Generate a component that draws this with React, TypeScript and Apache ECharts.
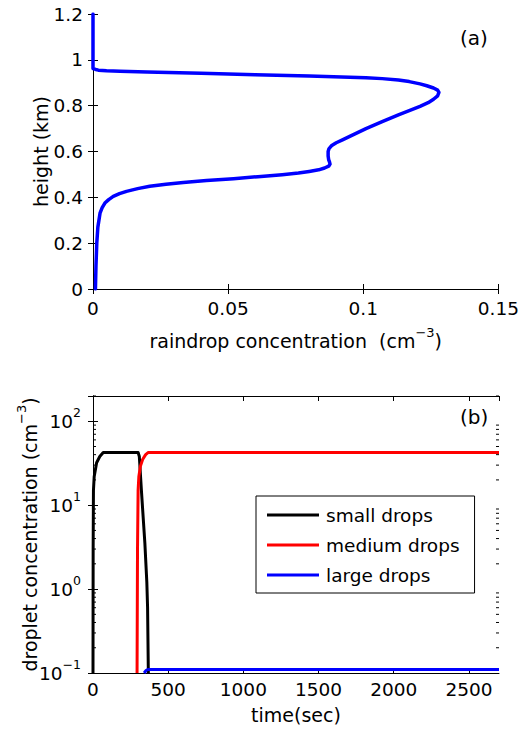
import React, { useEffect, useRef } from "react";
import * as echarts from "echarts";

// ---- Panel (a): raindrop concentration profile ----
const profileHeight = [0, 0.1, 0.2, 0.27, 0.331, 0.355, 0.375, 0.39, 0.404, 0.416, 0.426, 0.438, 0.448, 0.457, 0.465, 0.473, 0.481, 0.49, 0.499, 0.506, 0.513, 0.52, 0.528, 0.536, 0.545, 0.555, 0.564, 0.58, 0.6, 0.612, 0.625, 0.638, 0.652, 0.666, 0.7, 0.73, 0.76, 0.778, 0.797, 0.813, 0.828, 0.843, 0.858, 0.868, 0.877, 0.887, 0.895, 0.905, 0.912, 0.918, 0.922, 0.929, 0.935, 0.941, 0.947, 0.95, 0.952, 0.955, 0.958, 0.962, 1.2];
const profileConc = [0.0009, 0.0011, 0.0014, 0.0018, 0.0026, 0.0034, 0.0044, 0.0058, 0.0075, 0.0098, 0.0124, 0.0165, 0.021, 0.027, 0.0334, 0.042, 0.052, 0.061, 0.07, 0.076, 0.08, 0.0835, 0.0857, 0.0872, 0.0877, 0.0875, 0.0872, 0.087, 0.087, 0.0873, 0.0882, 0.09, 0.0925, 0.095, 0.101, 0.107, 0.113, 0.117, 0.121, 0.124, 0.126, 0.1275, 0.128, 0.1275, 0.126, 0.1235, 0.121, 0.117, 0.113, 0.107, 0.101, 0.08, 0.06, 0.04, 0.02, 0.01, 0.005, 0.002, 0.001, 0, 0];

// ---- Panel (b): droplet concentration time series ----
const smallTime = [0, 1, 3, 8, 24, 45, 68, 300, 308, 323, 345, 358, 363, 368];
const smallConc = [0.1, 3, 15, 22, 32, 38, 42.5, 42.5, 38, 14, 3.5, 1.2, 0.6, 0.1];
const mediumTime = [293, 296, 300, 305, 315, 330, 350, 368, 2700];
const mediumConc = [0.1, 3, 15, 22, 29, 35, 40, 42.5, 42.5];
const largeTime = [340, 352, 365, 2700];
const largeConc = [0.1, 0.107, 0.11, 0.11];

const seriesNames = ["small drops", "medium drops", "large drops"];
const seriesColors = ["#000000", "#ff0000", "#0000ff"];

const minorTickValues = [0.2, 0.3, 0.4, 0.5, 0.6, 0.7, 0.8, 0.9, 2, 3, 4, 5, 6, 7, 8, 9, 20, 30, 40, 50, 60, 70, 80, 90, 200];

const FONT = "DejaVu Sans";
const TICK = 18.5;
const NAME = 19;

const zip = (xs: number[], ys: number[]) => xs.map((x, i) => [x, ys[i]]);

const supRich = (base: number, sup: number, lift: number) => ({
  n: { fontSize: base, fontFamily: FONT, color: "#000", verticalAlign: "middle" },
  b: { fontSize: base, fontFamily: FONT, color: "#000", verticalAlign: "middle" },
  s: { fontSize: sup, fontFamily: FONT, color: "#000", verticalAlign: "middle", padding: [0, 0, lift, 0] },
});

export default function App() {
  const ref = useRef<HTMLDivElement>(null);
  useEffect(() => {
    if (!ref.current) return;
    const chart = echarts.init(ref.current, undefined, { renderer: "svg" });
    const axisLine = { show: true, lineStyle: { color: "#000", width: 1 } };
    const tick = { show: true, inside: true, length: 5, lineStyle: { color: "#000" } };
    const label = { color: "#000", fontFamily: FONT, fontSize: TICK };
    const frameAxis = {
      axisLine,
      axisTick: tick,
      axisLabel: { show: false },
      splitLine: { show: false },
    };
    const logFmt = (v: number) => {
      const e = Math.log10(v);
      const r = Math.round(e);
      if (Math.abs(e - r) > 1e-6) return "";
      return `{b|10}{s|${r < 0 ? "\u2212" + -r : r}}`;
    };
    const option: any = {
      animation: false,
      backgroundColor: "#fff",
      grid: [
        { left: 93, top: 14, width: 406, height: 275 },
        { left: 93, top: 396, width: 406, height: 277 },
      ],
      xAxis: [
        {
          type: "value", gridIndex: 0, min: 0, max: 0.15, interval: 0.05, position: "bottom",
          axisLine, axisTick: tick, splitLine: { show: false },
          axisLabel: { ...label, margin: 10, formatter: (v: number) => String(+v.toFixed(4)) },
          name: "{n|raindrop concentration  (cm}{s|\u22123}{n|)}",
          nameLocation: "middle", nameGap: 37, nameMoveOverlap: false,
          nameTextStyle: { rich: supRich(NAME, 13, 16) },
        },
        { type: "value", gridIndex: 0, min: 0, max: 0.15, interval: 0.05, position: "top", ...frameAxis },
        {
          type: "value", gridIndex: 1, min: 0, max: 2700, interval: 500, position: "bottom",
          axisLine, axisTick: tick, splitLine: { show: false },
          axisLabel: { ...label, margin: 7, showMaxLabel: false, formatter: (v: number) => String(v) },
          name: "time(sec)", nameLocation: "middle", nameGap: 32, nameMoveOverlap: false,
          nameTextStyle: { fontSize: NAME, fontFamily: FONT, color: "#000" },
        },
        { type: "value", gridIndex: 1, min: 0, max: 2700, interval: 500, position: "top", ...frameAxis },
      ],
      yAxis: [
        {
          type: "value", gridIndex: 0, min: 0, max: 1.2, interval: 0.2, position: "left",
          axisLine, axisTick: tick, splitLine: { show: false },
          axisLabel: { ...label, margin: 10, formatter: (v: number) => String(+v.toFixed(4)) },
          name: "height (km)", nameLocation: "middle", nameGap: 43, nameMoveOverlap: false,
          nameTextStyle: { fontSize: NAME, fontFamily: FONT, color: "#000" },
        },
        { type: "value", gridIndex: 0, min: 0, max: 1.2, interval: 0.2, position: "right", ...frameAxis },
        {
          type: "log", logBase: 10, gridIndex: 1, min: 0.1, max: 200, position: "left",
          axisLine, axisTick: tick, splitLine: { show: false },
          axisLabel: { margin: 12, showMaxLabel: false, formatter: logFmt, rich: supRich(TICK, 12.5, 18) },
          name: "{n|droplet concentration (cm}{s|\u22123}{n|)}",
          nameLocation: "middle", nameGap: 49, nameMoveOverlap: false,
          nameTextStyle: { rich: supRich(NAME, 13, 16) },
        },
        { type: "log", logBase: 10, gridIndex: 1, min: 0.1, max: 200, position: "right", ...frameAxis },
      ],
      legend: {
        data: seriesNames,
        orient: "vertical",
        left: 256,
        top: 496,
        icon: "rect",
        itemWidth: 52,
        itemHeight: 3,
        itemGap: 10,
        padding: [9, 15, 8, 11],
        borderColor: "#000",
        borderWidth: 1,
        backgroundColor: "#fff",
        textStyle: { fontSize: 18.5, fontFamily: FONT, color: "#000", lineHeight: 20, padding: [0, 0, 0, 2] },
      },
      graphic: [
        { type: "text", left: 460, top: 28, style: { text: "(a)", fontSize: 20, fontFamily: FONT, fill: "#000" } },
        { type: "text", left: 460, top: 407, style: { text: "(b)", fontSize: 20, fontFamily: FONT, fill: "#000" } },
      ],
      series: [
        {
          type: "line", name: "profile", xAxisIndex: 0, yAxisIndex: 0,
          data: zip(profileConc, profileHeight), showSymbol: false,
          lineStyle: { color: "#0000ff", width: 3.5, join: "round", cap: "round" }, itemStyle: { color: "#0000ff" },
        },
        {
          type: "custom", name: "minor", xAxisIndex: 2, yAxisIndex: 2,
          data: minorTickValues.map((v) => [0, v]),
          encode: { x: 0, y: 1 },
          silent: true, z: 1,
          renderItem: (params: any, api: any) => {
            const v = api.value(1);
            const pl = api.coord([0, v]);
            const pr = api.coord([2700, v]);
            return {
              type: "group",
              children: [
                { type: "line", shape: { x1: pl[0], y1: pl[1], x2: pl[0] + 3, y2: pl[1] }, style: { stroke: "#000", lineWidth: 1 } },
                { type: "line", shape: { x1: pr[0] - 3, y1: pr[1], x2: pr[0], y2: pr[1] }, style: { stroke: "#000", lineWidth: 1 } },
              ],
            };
          },
        },
        ...[zip(smallTime, smallConc), zip(mediumTime, mediumConc), zip(largeTime, largeConc)].map((d, i) => ({
          type: "line", name: seriesNames[i], xAxisIndex: 2, yAxisIndex: 2,
          data: d, showSymbol: false, clip: true,
          lineStyle: { color: seriesColors[i], width: 3, join: "round" }, itemStyle: { color: seriesColors[i] },
        })),
      ],
    };
    chart.setOption(option);
    return () => chart.dispose();
  }, []);
  return <div ref={ref} style={{ width: 522, height: 733, position: "absolute", left: 0, top: 0 }} />;
}
